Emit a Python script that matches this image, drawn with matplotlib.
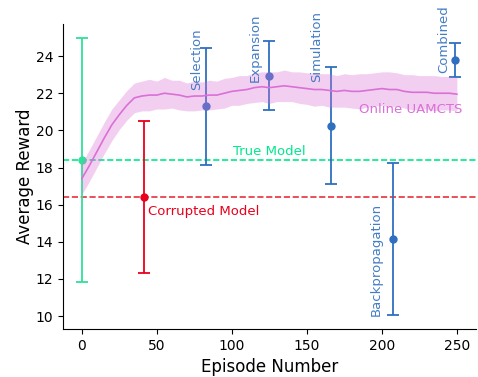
import matplotlib
matplotlib.use("Agg")
import matplotlib.pyplot as plt
import numpy as np

# Online UAMCTS learning curve (mean and half-width of shaded band)
episodes = [0, 5, 10, 15, 20, 25, 30, 35, 40, 45, 50, 55, 60, 65, 70, 75, 80, 85, 90, 95,
            100, 105, 110, 115, 120, 125, 130, 135, 140, 145, 150, 155, 160, 165, 170, 175,
            180, 185, 190, 195, 200, 205, 210, 215, 220, 225, 230, 235, 240, 245, 250]
online_mean = [17.4, 18.1, 18.85, 19.6, 20.3, 20.85, 21.35, 21.75, 21.85, 21.9, 21.9, 22.0,
               21.95, 21.9, 21.8, 21.85, 21.85, 21.9, 21.9, 22.0, 22.1, 22.15, 22.2, 22.3,
               22.35, 22.3, 22.35, 22.4, 22.35, 22.3, 22.25, 22.2, 22.2, 22.15, 22.1, 22.15,
               22.1, 22.1, 22.15, 22.2, 22.25, 22.2, 22.2, 22.1, 22.05, 22.05, 22.05, 22.0,
               22.0, 22.0, 21.95]
online_err = [0.85, 0.85, 0.85, 0.85, 0.85, 0.8, 0.8, 0.8, 0.8, 0.85, 0.75, 0.85, 0.75, 0.8,
              0.75, 0.8, 0.75, 0.8, 0.75, 0.8, 0.75, 0.8, 0.75, 0.8, 0.8, 0.85, 0.8,
              0.85, 0.8, 0.85, 0.85, 0.9, 0.85, 0.9, 0.85, 0.9, 0.9, 0.95, 0.9, 0.9, 0.9,
              0.95, 0.9, 0.9, 0.95, 0.9, 0.9, 0.95, 0.9, 0.9, 0.9]

# Baselines
true_x, true_y, true_err = 0, 18.4, 6.55
corr_x, corr_y, corr_err = 41.5, 16.4, 4.1

# Corrupted-model variants
variant_names = ["Selection", "Expansion", "Simulation", "Backpropagation", "Combined"]
variant_x = [83, 124.5, 166, 207.5, 249]
variant_y = [21.3, 22.95, 20.25, 14.15, 23.8]
variant_err = [3.15, 1.85, 3.15, 4.1, 0.9]

# label placement (data coords, bottom of rotated text)
label_x = [76.5, 115.5, 156.5, 196.0, 241.0]
label_y = [22.2, 22.6, 22.6, 10.0, 23.1]

green = "#2fe09a"
green_line = "#00e88c"
red = "#e8001c"
red_line = "#e8303c"
blue = "#2f6fbf"
orchid = "#da70d6"

fig = plt.figure(figsize=(4.78, 3.77), dpi=100)
ax = fig.add_axes([0.132, 0.127, 0.863, 0.809])

ax.axhline(true_y, color=green_line, ls="--", lw=1.2, zorder=1)
ax.axhline(corr_y, color=red_line, ls="--", lw=1.2, zorder=1)

eb_kw = dict(fmt="o", ms=5, capsize=4, lw=1.3, capthick=1.3, zorder=2)
ax.errorbar([true_x], [true_y], yerr=[true_err], color=green, **eb_kw)
ax.errorbar([corr_x], [corr_y], yerr=[corr_err], color=red, **eb_kw)
ax.errorbar(variant_x, variant_y, yerr=variant_err, color=blue, **eb_kw)

ep = np.array(episodes)
m = np.array(online_mean)
e = np.array(online_err)
ax.fill_between(ep, m - e, m + e, color=orchid, alpha=0.33, lw=0, zorder=3)
ax.plot(ep, m, color=orchid, lw=1.2, zorder=4)

for name, lx, ly in zip(variant_names, label_x, label_y):
    ax.text(lx, ly, name, rotation=90, ha="center", va="bottom", color=blue,
            fontsize=9.5, alpha=0.9)

ax.text(100.5, 18.5, "True Model", color=green_line, fontsize=9.5, ha="left", va="bottom")
ax.text(44.0, 15.65, "Corrupted Model", color=red, fontsize=9.5, ha="left", va="center")
ax.text(184.5, 21.15, "Online UAMCTS", color=orchid, fontsize=9.5, ha="left", va="center")

ax.set_xlim(-12.5, 262.5)
ax.set_ylim(9.3, 25.72)
ax.set_xticks([0, 50, 100, 150, 200, 250])
ax.set_yticks([10, 12, 14, 16, 18, 20, 22, 24])
ax.tick_params(labelsize=10)
ax.set_xlabel("Episode Number", fontsize=12)
ax.set_ylabel("Average Reward", fontsize=12, labelpad=1)
ax.spines["top"].set_visible(False)
ax.spines["right"].set_visible(False)

fig.savefig("out.png", dpi=100)
